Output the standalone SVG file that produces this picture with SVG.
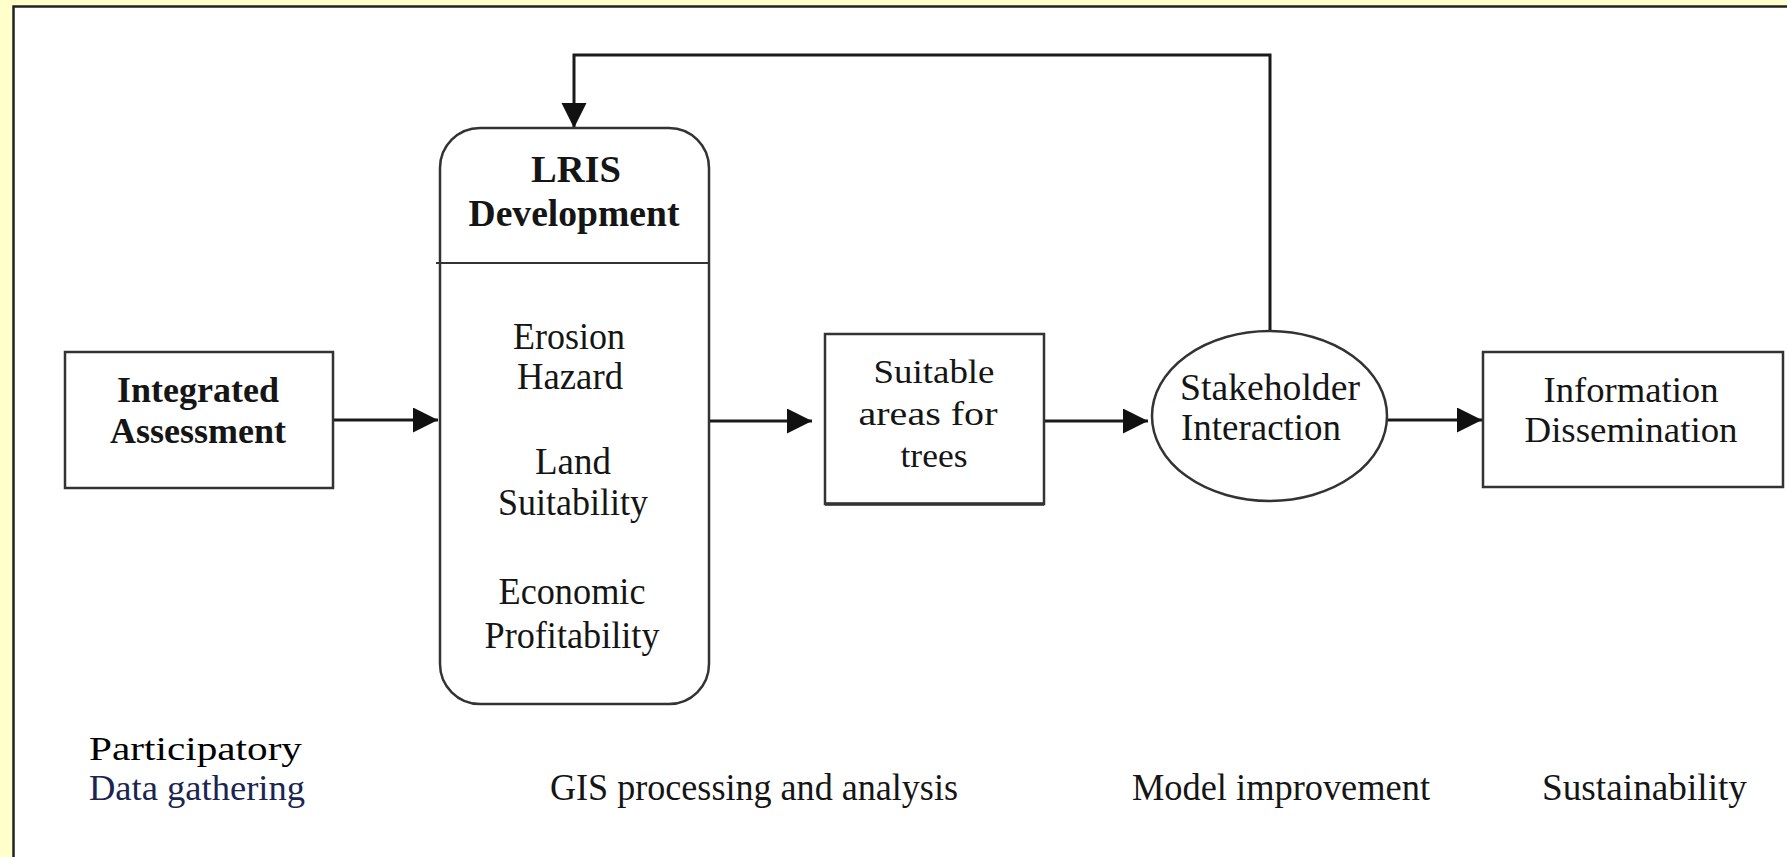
<svg xmlns="http://www.w3.org/2000/svg" width="1787" height="857" viewBox="0 0 1787 857">
<defs>
<marker id="ah" markerUnits="userSpaceOnUse" markerWidth="26" markerHeight="26" refX="25" refY="12.5" orient="auto">
<path d="M0,0 L25,12.5 L0,25 z" fill="#111"/>
</marker>
<style>
.box{fill:#fff;stroke:#333;stroke-width:2.5}
.t{font-family:"Liberation Serif","Times New Roman",serif;font-size:36px;fill:#151515;text-anchor:middle}
.b{font-weight:bold}
.m{font-size:38px}
.con{fill:none;stroke:#1a1a1a;stroke-width:3;marker-end:url(#ah)}
</style>
</defs>
<rect x="0" y="0" width="1787" height="857" fill="#FFFFCC"/>
<rect x="13" y="6" width="1774" height="851" fill="#fff"/>
<path d="M13.5,857 V6.5 H1787" fill="none" stroke="#222" stroke-width="2.5"/>

<g id="connectors">
<path class="con" d="M333,420 H438"/>
<path class="con" d="M710,421 H812"/>
<path class="con" d="M1044,421 H1148"/>
<path class="con" d="M1387,420 H1482"/>
<path class="con" d="M1270,331 V55 H574 V128"/>
</g>

<g id="integrated">
<rect class="box" x="65" y="352" width="268" height="136"/>
<text class="t b" x="198" y="402">Integrated</text>
<text class="t b" x="198" y="443">Assessment</text>
</g>

<g id="lris">
<rect class="box" x="440" y="128" width="269" height="576" rx="40" ry="40"/>
<line x1="436" y1="263" x2="709" y2="263" stroke="#333" stroke-width="2"/>
<text class="t b m" x="576" y="182" textLength="90" lengthAdjust="spacingAndGlyphs">LRIS</text>
<text class="t b m" x="574" y="226" textLength="211" lengthAdjust="spacingAndGlyphs">Development</text>
<text class="t m" x="569" y="349" textLength="112" lengthAdjust="spacingAndGlyphs">Erosion</text>
<text class="t m" x="570" y="389" textLength="106" lengthAdjust="spacingAndGlyphs">Hazard</text>
<text class="t m" x="573" y="474" textLength="76" lengthAdjust="spacingAndGlyphs">Land</text>
<text class="t m" x="573" y="515" textLength="150" lengthAdjust="spacingAndGlyphs">Suitability</text>
<text class="t m" x="572" y="604" textLength="147" lengthAdjust="spacingAndGlyphs">Economic</text>
<text class="t m" x="572" y="648" textLength="175" lengthAdjust="spacingAndGlyphs">Profitability</text>
</g>

<g id="suitable">
<rect class="box" x="825" y="334" width="219" height="170"/>
<line x1="825" y1="504" x2="1044" y2="504" stroke="#333" stroke-width="3.5"/>
<text class="t" x="934" y="383" style="font-size:34px" textLength="121" lengthAdjust="spacingAndGlyphs">Suitable</text>
<text class="t" x="928" y="425" style="font-size:34px" textLength="139" lengthAdjust="spacingAndGlyphs">areas for</text>
<text class="t" x="934" y="467" style="font-size:34px" textLength="67" lengthAdjust="spacingAndGlyphs">trees</text>
</g>

<g id="stakeholder">
<ellipse cx="1269.5" cy="416" rx="117.5" ry="85" fill="#fff" stroke="#333" stroke-width="2.5"/>
<text class="t m" x="1180" y="400" style="text-anchor:start" textLength="180" lengthAdjust="spacingAndGlyphs">Stakeholder</text>
<text class="t m" x="1181" y="440" style="text-anchor:start" textLength="160" lengthAdjust="spacingAndGlyphs">Interaction</text>
</g>

<g id="information">
<rect class="box" x="1483" y="352" width="300" height="135"/>
<text class="t" x="1631" y="402" textLength="175" lengthAdjust="spacingAndGlyphs">Information</text>
<text class="t" x="1631" y="442" textLength="213" lengthAdjust="spacingAndGlyphs">Dissemination</text>
</g>

<g id="labels">
<text class="t" x="89" y="760" style="text-anchor:start;fill:#000;font-size:34px" textLength="213" lengthAdjust="spacingAndGlyphs">Participatory</text>
<text class="t" x="89" y="800" style="text-anchor:start;fill:#1a2550;font-size:35px" textLength="216" lengthAdjust="spacingAndGlyphs">Data gathering</text>
<text class="t m" x="550" y="800" style="text-anchor:start" textLength="408" lengthAdjust="spacingAndGlyphs">GIS processing and analysis</text>
<text class="t m" x="1132" y="800" style="text-anchor:start" textLength="298" lengthAdjust="spacingAndGlyphs">Model improvement</text>
<text class="t m" x="1542" y="800" style="text-anchor:start" textLength="205" lengthAdjust="spacingAndGlyphs">Sustainability</text>
</g>
</svg>
